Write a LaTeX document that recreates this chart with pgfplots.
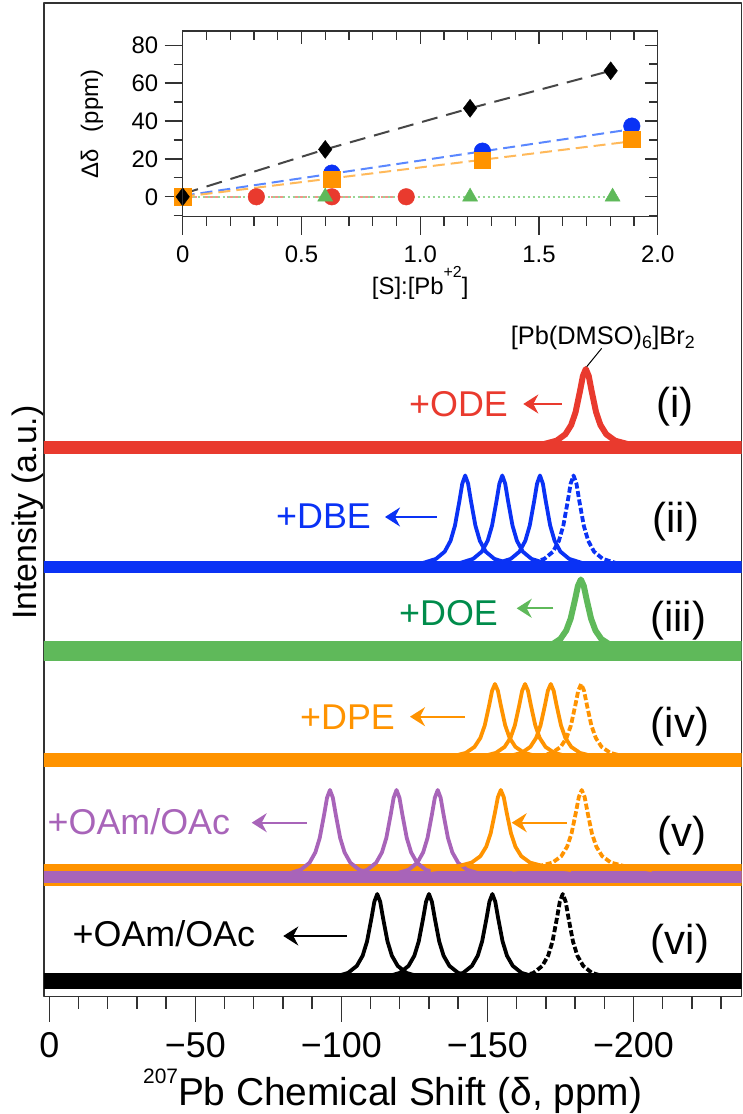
\documentclass[border=0pt]{standalone}
\usepackage{fontspec}
\setmainfont{Liberation Sans}
\usepackage{pgfplots}
\usepackage{pgfplotstable}
\pgfplotsset{compat=1.18}
\usetikzlibrary{arrows.meta}

\definecolor{cRed}{RGB}{233,58,46}
\definecolor{cBlue}{RGB}{10,50,245}
\definecolor{cGreen}{RGB}{95,185,90}
\definecolor{cGreenTxt}{RGB}{0,140,75}
\definecolor{cOrange}{RGB}{255,147,0}
\definecolor{cPurple}{RGB}{168,100,185}
\definecolor{axisgray}{RGB}{50,50,50}
\definecolor{lnBlack}{RGB}{70,70,70}
\definecolor{lnBlue}{RGB}{90,135,255}
\definecolor{lnOrange}{RGB}{255,185,90}
\definecolor{lnRed}{RGB}{240,150,140}
\definecolor{lnGreen}{RGB}{150,215,150}

\newcommand\fbig{\fontsize{36}{40}\selectfont}
\newcommand\fxlab{\fontsize{39}{43}\selectfont}
\newcommand\fylab{\fontsize{34}{38}\selectfont}
\newcommand\fnum{\fontsize{42}{46}\selectfont}
\newcommand\fsmall{\fontsize{24}{28}\selectfont}
\newcommand\fnote{\fontsize{25.5}{28}\selectfont}

% 207Pb spectra: chemical shift (ppm) vs. stacked intensity
% (i) +ODE
\pgfplotstableread{
x y
-207.7 548.5
-198.7 551.9
-193.7 555.8
-190.7 562.2
-188.7 571.5
-187.2 584.4
-185.7 605.3
-184.7 620.5
-183.7 627.5
-182.7 620.5
-181.7 605.3
-180.2 584.4
-178.7 571.5
-176.7 562.2
-173.7 555.8
-168.7 551.9
-159.7 548.5
}\odeT

% (ii) +DBE
\pgfplotstableread{
x1 x2 x3 x4 y
-166.4 -179.1 -192.0 -203.5 429.0
-157.4 -170.1 -183.0 -194.5 433.0
-152.4 -165.1 -178.0 -189.5 437.6
-149.4 -162.1 -175.0 -186.5 444.9
-147.4 -160.1 -173.0 -184.5 455.8
-145.9 -158.6 -171.5 -183.0 470.9
-144.4 -157.1 -170.0 -181.5 495.1
-143.4 -156.1 -169.0 -180.5 512.8
-142.4 -155.1 -168.0 -179.5 521.0
-141.4 -154.1 -167.0 -178.5 512.8
-140.4 -153.1 -166.0 -177.5 495.1
-138.9 -151.6 -164.5 -176.0 470.9
-137.4 -150.1 -163.0 -174.5 455.8
-135.4 -148.1 -161.0 -172.5 444.9
-132.4 -145.1 -158.0 -169.5 437.6
-127.4 -140.1 -153.0 -164.5 433.0
-118.4 -131.1 -144.0 -155.5 429.0
}\dbeT

% (iii) +DOE
\pgfplotstableread{
x y
-206 345.0
-197 348.1
-192 351.7
-189 357.5
-187 366.0
-185.5 377.8
-184 396.8
-183 410.6
-182 417.0
-181 410.6
-180 396.8
-178.5 377.8
-177 366.0
-175 357.5
-172 351.7
-167 348.1
-158 345.0
}\doeT

% (iv) +DPE
\pgfplotstableread{
x1 x2 x3 x4 y
-176.6 -186.9 -195.7 -206.1 236.5
-167.6 -177.9 -186.7 -197.1 239.8
-162.6 -172.9 -181.7 -192.1 243.6
-159.6 -169.9 -178.7 -189.1 249.6
-157.6 -167.9 -176.7 -187.1 258.6
-156.1 -166.4 -175.2 -185.6 271.1
-154.6 -164.9 -173.7 -184.1 291.1
-153.6 -163.9 -172.7 -183.1 305.7
-152.6 -162.9 -171.7 -182.1 312.5
-151.6 -161.9 -170.7 -181.1 305.7
-150.6 -160.9 -169.7 -180.1 291.1
-149.1 -159.4 -168.2 -178.6 271.1
-147.6 -157.9 -166.7 -177.1 258.6
-145.6 -155.9 -164.7 -175.1 249.6
-142.6 -152.9 -161.7 -172.1 243.6
-137.6 -147.9 -156.7 -167.1 239.8
-128.6 -138.9 -147.7 -158.1 236.5
}\dpeT

% (v) orange traces
\pgfplotstableread{
x1 x2 y
-178.6 -206.3 126.5
-169.6 -197.3 130.0
-164.6 -192.3 133.9
-161.6 -189.3 140.3
-159.6 -187.3 149.8
-158.1 -185.8 162.9
-156.6 -184.3 184.0
-155.6 -183.3 199.4
-154.6 -182.3 206.5
-153.6 -181.3 199.4
-152.6 -180.3 184.0
-151.1 -178.8 162.9
-149.6 -177.3 149.8
-147.6 -175.3 140.3
-144.6 -172.3 133.9
-139.6 -167.3 130.0
-130.6 -158.3 126.5
}\vOrT

% (v) +OAm/OAc
\pgfplotstableread{
x1 x2 x3 y
-120.1 -142.9 -157.0 118.5
-111.1 -133.9 -148.0 122.3
-106.1 -128.9 -143.0 126.7
-103.1 -125.9 -140.0 133.7
-101.1 -123.9 -138.0 144.1
-99.6 -122.4 -136.5 158.5
-98.1 -120.9 -135.0 181.8
-97.1 -119.9 -134.0 198.7
-96.1 -118.9 -133.0 206.5
-95.1 -117.9 -132.0 198.7
-94.1 -116.9 -131.0 181.8
-92.6 -115.4 -129.5 158.5
-91.1 -113.9 -128.0 144.1
-89.1 -111.9 -126.0 133.7
-86.1 -108.9 -123.0 126.7
-81.1 -103.9 -118.0 122.3
-72.1 -94.9 -109.0 118.5
}\vPuT

% (vi) +OAm/OAc
\pgfplotstableread{
x1 x2 x3 x4 y
-136.3 -154.0 -175.7 -199.8 15.5
-127.3 -145.0 -166.7 -190.8 19.3
-122.3 -140.0 -161.7 -185.8 23.6
-119.3 -137.0 -158.7 -182.8 30.6
-117.3 -135.0 -156.7 -180.8 40.8
-115.8 -133.5 -155.2 -179.3 55.1
-114.3 -132.0 -153.7 -177.8 78.1
-113.3 -131.0 -152.7 -176.8 94.8
-112.3 -130.0 -151.7 -175.8 102.5
-111.3 -129.0 -150.7 -174.8 94.8
-110.3 -128.0 -149.7 -173.8 78.1
-108.8 -126.5 -148.2 -172.3 55.1
-107.3 -125.0 -146.7 -170.8 40.8
-105.3 -123.0 -144.7 -168.8 30.6
-102.3 -120.0 -141.7 -165.8 23.6
-97.3 -115.0 -136.7 -160.8 19.3
-88.3 -106.0 -127.7 -151.8 15.5
}\viT

\begin{document}
\begin{tikzpicture}[x=1bp,y=1bp]

% ---------------- stacked spectra ----------------
\begin{axis}[
  at={(44bp,117.5bp)}, anchor=south west,
  scale only axis, width=697.5bp, height=993.5bp,
  x dir=reverse, xmin=-237, xmax=1.8, ymin=0, ymax=993.5,
  axis line style={axisgray, line width=1.6bp},
  xtick={-200,-150,-100,-50,0},
  xticklabels={−200,−150,−100,−50,0},
  minor xtick={-230,-220,...,-10},
  ytick=\empty,
  xtick pos=left, tick align=outside,
  major tick length=25bp, minor tick length=12bp,
  every tick/.style={axisgray, line width=1.4bp},
  xticklabel style={font=\fbig, yshift=-7bp},
  every axis x label/.style={at={(axis description cs:0.5,0)}, anchor=base, yshift=-108.5bp, font=\fxlab},
  every axis y label/.style={at={(axis description cs:-0.0105,0.487)}, anchor=base, rotate=90, font=\fylab},
  xlabel={\raisebox{22bp}{\fontsize{21}{21}\selectfont 207}Pb Chemical Shift (δ, ppm)},
  ylabel={Intensity (a.u.)},
  line join=round,
]
% (i)
\addplot[cRed, line width=13bp] coordinates {(3,548.5) (-240,548.5)};
\addplot[cRed, line width=6bp] table[x=x,y=y] {\odeT};
% (ii)
\addplot[cBlue, line width=12bp] coordinates {(3,429) (-240,429)};
\addplot[cBlue, line width=3.8bp] table[x=x1,y=y] {\dbeT};
\addplot[cBlue, line width=3.8bp] table[x=x2,y=y] {\dbeT};
\addplot[cBlue, line width=3.8bp] table[x=x3,y=y] {\dbeT};
\addplot[cBlue, line width=3.8bp, dash pattern=on 6bp off 2.5bp] table[x=x4,y=y] {\dbeT};
% (iii)
\addplot[cGreen, line width=20bp] coordinates {(3,345) (-240,345)};
\addplot[cGreen, line width=6bp] table[x=x,y=y] {\doeT};
% (iv)
\addplot[cOrange, line width=14bp] coordinates {(3,236.5) (-240,236.5)};
\addplot[cOrange, line width=3.8bp] table[x=x1,y=y] {\dpeT};
\addplot[cOrange, line width=3.8bp] table[x=x2,y=y] {\dpeT};
\addplot[cOrange, line width=3.8bp] table[x=x3,y=y] {\dpeT};
\addplot[cOrange, line width=3.8bp, dash pattern=on 6bp off 2.5bp] table[x=x4,y=y] {\dpeT};
% (v)
\addplot[cOrange, line width=22bp] coordinates {(3,121.5) (-240,121.5)};
\addplot[cPurple, line width=12bp] coordinates {(3,119.5) (-240,119.5)};
\addplot[cPurple, line width=3.8bp] table[x=x1,y=y] {\vPuT};
\addplot[cPurple, line width=3.8bp] table[x=x2,y=y] {\vPuT};
\addplot[cPurple, line width=3.8bp] table[x=x3,y=y] {\vPuT};
\addplot[cOrange, line width=3.8bp] table[x=x1,y=y] {\vOrT};
\addplot[cOrange, line width=3.8bp, dash pattern=on 6bp off 2.5bp] table[x=x2,y=y] {\vOrT};
% (vi)
\addplot[black, line width=16bp] coordinates {(3,15.5) (-240,15.5)};
\addplot[black, line width=3.8bp] table[x=x1,y=y] {\viT};
\addplot[black, line width=3.8bp] table[x=x2,y=y] {\viT};
\addplot[black, line width=3.8bp] table[x=x3,y=y] {\viT};
\addplot[black, line width=3.8bp, dash pattern=on 6bp off 2.5bp] table[x=x4,y=y] {\viT};
\end{axis}

% ---------------- inset: shift vs. ratio ----------------
\begin{axis}[
  at={(182.7bp,897.3bp)}, anchor=south west,
  scale only axis, width=475bp, height=185.7bp,
  xmin=0, xmax=2, ymin=-10.5, ymax=87.5,
  clip=false,
  axis line style={axisgray, line width=1.4bp},
  xtick={0,0.5,1,1.5,2}, xticklabels={0,0.5,1.0,1.5,2.0},
  ytick={0,20,40,60,80}, yticklabels={0,20,40,60,80},
  minor xtick={0.1,0.2,0.3,0.4,0.6,0.7,0.8,0.9,1.1,1.2,1.3,1.4,1.6,1.7,1.8,1.9},
  minor ytick={-10,10,30,50,70},
  xtick pos=left, ytick pos=left, tick align=outside,
  major tick length=18bp, minor tick length=9bp,
  every tick/.style={axisgray, line width=1.3bp},
  xticklabel style={font=\fsmall, yshift=-8bp},
  yticklabel style={font=\fsmall, xshift=-3bp},
  every axis x label/.style={at={(axis description cs:0.5,0)}, anchor=base, yshift=-78.3bp, font=\fsmall},
  every axis y label/.style={at={(axis description cs:-0.178,0.5)}, anchor=base, rotate=90, font=\fsmall},
  xlabel={[S]:[Pb\raisebox{17bp}{\fontsize{16}{16}\selectfont +2}]},
  ylabel={Δδ\hspace{0.7em}(ppm)},
]
\addplot[lnRed, line width=2bp, dash pattern=on 14bp off 8bp] coordinates {(0,0) (0.94,0)};
\addplot[lnGreen, line width=1.5bp, dash pattern=on 2bp off 3bp] coordinates {(0,0) (1.81,0)};
\addplot[lnBlue, line width=2bp, dash pattern=on 12bp off 6bp] coordinates {(0,0.5) (1.86,35.1)};
\addplot[lnOrange, line width=2bp, dash pattern=on 12bp off 6bp] coordinates {(0,0) (1.86,28.8)};
\addplot[lnBlack, line width=2bp, dash pattern=on 16bp off 9bp] coordinates {(0,1.5) (0.6,25) (1.21,46.7) (1.802,66.5)};
\addplot[only marks, mark=*, mark size=8.3bp, cRed] coordinates {(0,0) (0.31,0) (0.628,0) (0.941,0)};
\addplot[only marks, mark=triangle*, mark size=8.7bp, cGreen] coordinates {(0,0) (0.6,0) (1.21,0) (1.81,0)};
\addplot[only marks, mark=*, mark size=8.3bp, cBlue] coordinates {(0,0) (0.628,12.5) (1.262,24.1) (1.891,37.3)};
\addplot[only marks, mark=square*, mark size=8.2bp, cOrange] coordinates {(0,0) (0.628,9.2) (1.262,19.4) (1.891,30.3)};
\addplot[only marks, mark=diamond*, mark size=9bp, black] coordinates {(0,0) (0.6,25) (1.21,46.7) (1.802,66.5)};
\end{axis}

% mirrored inner ticks on top and right of the inset
\begin{axis}[
  at={(182.7bp,897.3bp)}, anchor=south west,
  scale only axis, width=475bp, height=185.7bp,
  xmin=0, xmax=2, ymin=-10.5, ymax=87.5,
  axis line style={axisgray, line width=1.4bp},
  xtick={0,0.5,1,1.5,2}, ytick={0,20,40,60,80},
  minor xtick={0.1,0.2,0.3,0.4,0.6,0.7,0.8,0.9,1.1,1.2,1.3,1.4,1.6,1.7,1.8,1.9},
  minor ytick={-10,10,30,50,70},
  tick label style={opacity=0},
  xtick pos=right, ytick pos=right, tick align=inside,
  major tick length=13bp, minor tick length=9bp,
  every tick/.style={axisgray, line width=1.3bp},
]
\end{axis}

% ---------------- annotations ----------------
\tikzset{arr/.style={line width=2bp, -{Stealth[length=15bp,width=19bp,inset=5bp]}}}
\node[anchor=base, font=\fnote, inner sep=0] at (603,769) {[Pb(DMSO)\textsubscript{6}]Br\textsubscript{2}};
\draw[line width=1bp] (601.7,765.7) -- (586.7,747.3);

\node[anchor=base west, font=\fbig, text=cRed, inner sep=0] at (409,697.3) {+ODE};
\draw[arr, cRed] (561.7,710) -- (523.3,710);
\node[anchor=base, font=\fnum, inner sep=0] at (675,696) {(i)};

\node[anchor=base west, font=\fbig, text=cBlue, inner sep=0] at (276,585.7) {+DBE};
\draw[arr, cBlue] (436.7,597) -- (385,597);
\node[anchor=base, font=\fnum, inner sep=0] at (676,581.1) {(ii)};

\node[anchor=base west, font=\fbig, text=cGreenTxt, inner sep=0] at (399,488) {+DOE};
\draw[arr, cGreen] (553.3,505.7) -- (516.7,505.7);
\node[anchor=base, font=\fnum, inner sep=0] at (678.3,482.8) {(iii)};

\node[anchor=base west, font=\fbig, text=cOrange, inner sep=0] at (300,384) {+DPE};
\draw[arr, cOrange] (465,397.3) -- (410,397.3);
\node[anchor=base, font=\fnum, inner sep=0] at (680,376.1) {(iv)};

\node[anchor=base west, font=\fbig, text=cPurple, inner sep=0] at (47.5,279) {+OAm/OAc};
\draw[arr, cPurple] (306.7,291.3) -- (251.7,291.3);
\draw[arr, cOrange] (566.7,291.3) -- (511.7,291.3);
\node[anchor=base, font=\fnum, inner sep=0] at (681.7,267.8) {(v)};

\node[anchor=base west, font=\fbig, text=black, inner sep=0] at (72.5,167.3) {+OAm/OAc};
\draw[arr, black] (346.7,178) -- (283.3,178);
\node[anchor=base, font=\fnum, inner sep=0] at (680,159.5) {(vi)};

\pgfresetboundingbox
\useasboundingbox (0,0) rectangle (743,1114);
\end{tikzpicture}
\end{document}
